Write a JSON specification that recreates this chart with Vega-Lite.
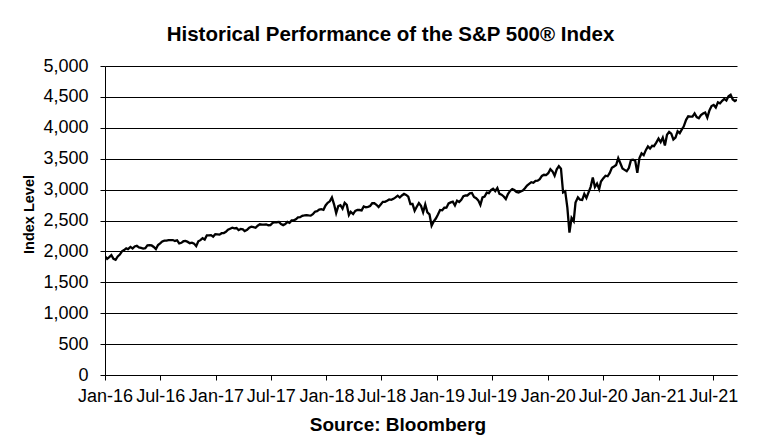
{
"$schema": "https://vega.github.io/schema/vega-lite/v6.json",
"width": 632, "height": 309,
"autosize": {"type": "none"},
"padding": {"left": 105, "top": 66, "right": 41, "bottom": 62},
"background": "white",
"title": {"text": "Historical  Performance of the S&P 500® Index", "font": "Liberation Sans", "fontSize": 20.5, "fontWeight": "bold", "color": "black", "anchor": "middle", "frame": "group", "offset": 12, "dx": -30.5},
"data": {"values": [
{"date":"2016/01/08","close":1922.03},{"date":"2016/01/15","close":1880.33},{"date":"2016/01/22","close":1906.90},{"date":"2016/01/29","close":1940.24},
{"date":"2016/02/05","close":1880.05},{"date":"2016/02/12","close":1864.78},{"date":"2016/02/19","close":1917.78},{"date":"2016/02/26","close":1948.05},
{"date":"2016/03/04","close":1999.99},{"date":"2016/03/11","close":2022.19},{"date":"2016/03/18","close":2049.58},{"date":"2016/03/24","close":2035.94},
{"date":"2016/04/01","close":2072.78},{"date":"2016/04/08","close":2047.60},{"date":"2016/04/15","close":2080.73},{"date":"2016/04/22","close":2091.58},{"date":"2016/04/29","close":2065.30},
{"date":"2016/05/06","close":2057.14},{"date":"2016/05/13","close":2046.61},{"date":"2016/05/20","close":2052.32},{"date":"2016/05/27","close":2099.06},
{"date":"2016/06/03","close":2099.13},{"date":"2016/06/10","close":2096.07},{"date":"2016/06/17","close":2071.22},{"date":"2016/06/24","close":2037.41},
{"date":"2016/07/01","close":2102.95},{"date":"2016/07/08","close":2129.90},{"date":"2016/07/15","close":2161.74},{"date":"2016/07/22","close":2175.03},{"date":"2016/07/29","close":2173.60},
{"date":"2016/08/05","close":2182.87},{"date":"2016/08/12","close":2184.05},{"date":"2016/08/19","close":2183.87},{"date":"2016/08/26","close":2169.04},
{"date":"2016/09/02","close":2179.98},{"date":"2016/09/09","close":2127.81},{"date":"2016/09/16","close":2139.16},{"date":"2016/09/23","close":2164.69},{"date":"2016/09/30","close":2168.27},
{"date":"2016/10/07","close":2153.74},{"date":"2016/10/14","close":2132.98},{"date":"2016/10/21","close":2141.16},{"date":"2016/10/28","close":2126.41},
{"date":"2016/11/04","close":2085.18},{"date":"2016/11/11","close":2164.45},{"date":"2016/11/18","close":2181.90},{"date":"2016/11/25","close":2213.35},
{"date":"2016/12/02","close":2191.95},{"date":"2016/12/09","close":2259.53},{"date":"2016/12/16","close":2258.07},{"date":"2016/12/23","close":2263.79},{"date":"2016/12/30","close":2238.83},
{"date":"2017/01/06","close":2276.98},{"date":"2017/01/13","close":2274.64},{"date":"2017/01/20","close":2271.31},{"date":"2017/01/27","close":2294.69},
{"date":"2017/02/03","close":2297.42},{"date":"2017/02/10","close":2316.10},{"date":"2017/02/17","close":2351.16},{"date":"2017/02/24","close":2367.34},
{"date":"2017/03/03","close":2383.12},{"date":"2017/03/10","close":2372.60},{"date":"2017/03/17","close":2378.25},{"date":"2017/03/24","close":2343.98},{"date":"2017/03/31","close":2362.72},
{"date":"2017/04/07","close":2355.54},{"date":"2017/04/13","close":2328.95},{"date":"2017/04/21","close":2348.69},{"date":"2017/04/28","close":2384.20},
{"date":"2017/05/05","close":2399.29},{"date":"2017/05/12","close":2390.90},{"date":"2017/05/19","close":2381.73},{"date":"2017/05/26","close":2415.82},
{"date":"2017/06/02","close":2439.07},{"date":"2017/06/09","close":2431.77},{"date":"2017/06/16","close":2433.15},{"date":"2017/06/23","close":2438.30},{"date":"2017/06/30","close":2423.41},
{"date":"2017/07/07","close":2425.18},{"date":"2017/07/14","close":2459.27},{"date":"2017/07/21","close":2472.54},{"date":"2017/07/28","close":2472.10},
{"date":"2017/08/04","close":2476.83},{"date":"2017/08/11","close":2441.32},{"date":"2017/08/18","close":2425.55},{"date":"2017/08/25","close":2443.05},
{"date":"2017/09/01","close":2476.55},{"date":"2017/09/08","close":2461.43},{"date":"2017/09/15","close":2500.23},{"date":"2017/09/22","close":2502.22},{"date":"2017/09/29","close":2519.36},
{"date":"2017/10/06","close":2549.33},{"date":"2017/10/13","close":2553.17},{"date":"2017/10/20","close":2575.21},{"date":"2017/10/27","close":2581.07},
{"date":"2017/11/03","close":2587.84},{"date":"2017/11/10","close":2582.30},{"date":"2017/11/17","close":2578.85},{"date":"2017/11/24","close":2602.42},
{"date":"2017/12/01","close":2642.22},{"date":"2017/12/08","close":2651.50},{"date":"2017/12/15","close":2675.81},{"date":"2017/12/22","close":2683.34},{"date":"2017/12/29","close":2673.61},
{"date":"2018/01/05","close":2743.15},{"date":"2018/01/12","close":2786.24},{"date":"2018/01/19","close":2810.30},{"date":"2018/01/26","close":2872.87},
{"date":"2018/02/02","close":2762.13},{"date":"2018/02/09","close":2619.55},{"date":"2018/02/16","close":2732.22},{"date":"2018/02/23","close":2747.30},
{"date":"2018/03/02","close":2691.25},{"date":"2018/03/09","close":2786.57},{"date":"2018/03/16","close":2752.01},{"date":"2018/03/23","close":2588.26},{"date":"2018/03/29","close":2640.87},
{"date":"2018/04/06","close":2604.47},{"date":"2018/04/13","close":2656.30},{"date":"2018/04/20","close":2670.14},{"date":"2018/04/27","close":2669.91},
{"date":"2018/05/04","close":2663.42},{"date":"2018/05/11","close":2727.72},{"date":"2018/05/18","close":2712.97},{"date":"2018/05/25","close":2721.33},
{"date":"2018/06/01","close":2734.62},{"date":"2018/06/08","close":2779.03},{"date":"2018/06/15","close":2779.66},{"date":"2018/06/22","close":2754.88},{"date":"2018/06/29","close":2718.37},
{"date":"2018/07/06","close":2759.82},{"date":"2018/07/13","close":2801.31},{"date":"2018/07/20","close":2801.83},{"date":"2018/07/27","close":2818.82},
{"date":"2018/08/03","close":2840.35},{"date":"2018/08/10","close":2833.28},{"date":"2018/08/17","close":2850.13},{"date":"2018/08/24","close":2874.69},{"date":"2018/08/31","close":2901.52},
{"date":"2018/09/07","close":2871.68},{"date":"2018/09/14","close":2904.98},{"date":"2018/09/21","close":2929.67},{"date":"2018/09/28","close":2913.98},
{"date":"2018/10/05","close":2885.57},{"date":"2018/10/12","close":2767.13},{"date":"2018/10/19","close":2767.78},{"date":"2018/10/26","close":2658.69},
{"date":"2018/11/02","close":2723.06},{"date":"2018/11/09","close":2781.01},{"date":"2018/11/16","close":2736.27},{"date":"2018/11/23","close":2632.56},{"date":"2018/11/30","close":2760.17},
{"date":"2018/12/07","close":2633.08},{"date":"2018/12/14","close":2599.95},{"date":"2018/12/21","close":2416.62},{"date":"2018/12/28","close":2485.74},
{"date":"2019/01/04","close":2531.94},{"date":"2019/01/11","close":2596.26},{"date":"2019/01/18","close":2670.71},{"date":"2019/01/25","close":2664.76},
{"date":"2019/02/01","close":2706.53},{"date":"2019/02/08","close":2707.88},{"date":"2019/02/15","close":2775.60},{"date":"2019/02/22","close":2792.67},
{"date":"2019/03/01","close":2803.69},{"date":"2019/03/08","close":2743.07},{"date":"2019/03/15","close":2822.48},{"date":"2019/03/22","close":2800.71},{"date":"2019/03/29","close":2834.40},
{"date":"2019/04/05","close":2892.74},{"date":"2019/04/12","close":2907.41},{"date":"2019/04/18","close":2905.03},{"date":"2019/04/26","close":2939.88},
{"date":"2019/05/03","close":2945.64},{"date":"2019/05/10","close":2881.40},{"date":"2019/05/17","close":2859.53},{"date":"2019/05/24","close":2826.06},{"date":"2019/05/31","close":2752.06},
{"date":"2019/06/07","close":2873.34},{"date":"2019/06/14","close":2886.98},{"date":"2019/06/21","close":2950.46},{"date":"2019/06/28","close":2941.76},
{"date":"2019/07/05","close":2990.41},{"date":"2019/07/12","close":3013.77},{"date":"2019/07/19","close":2976.61},{"date":"2019/07/26","close":3025.86},
{"date":"2019/08/02","close":2932.05},{"date":"2019/08/09","close":2918.65},{"date":"2019/08/16","close":2888.68},{"date":"2019/08/23","close":2847.11},{"date":"2019/08/30","close":2926.46},
{"date":"2019/09/06","close":2978.71},{"date":"2019/09/13","close":3007.39},{"date":"2019/09/20","close":2992.07},{"date":"2019/09/27","close":2961.79},
{"date":"2019/10/04","close":2952.01},{"date":"2019/10/11","close":2970.27},{"date":"2019/10/18","close":2986.20},{"date":"2019/10/25","close":3022.55},
{"date":"2019/11/01","close":3066.91},{"date":"2019/11/08","close":3093.08},{"date":"2019/11/15","close":3120.46},{"date":"2019/11/22","close":3110.29},{"date":"2019/11/29","close":3140.98},
{"date":"2019/12/06","close":3145.91},{"date":"2019/12/13","close":3168.80},{"date":"2019/12/20","close":3221.22},{"date":"2019/12/27","close":3240.02},
{"date":"2020/01/03","close":3234.85},{"date":"2020/01/10","close":3265.35},{"date":"2020/01/17","close":3329.62},{"date":"2020/01/24","close":3295.47},{"date":"2020/01/31","close":3225.52},
{"date":"2020/02/07","close":3327.71},{"date":"2020/02/14","close":3380.16},{"date":"2020/02/21","close":3337.75},{"date":"2020/02/28","close":2954.22},
{"date":"2020/03/06","close":2972.37},{"date":"2020/03/13","close":2711.02},{"date":"2020/03/20","close":2304.92},{"date":"2020/03/27","close":2541.47},
{"date":"2020/04/03","close":2488.65},{"date":"2020/04/09","close":2789.82},{"date":"2020/04/17","close":2874.56},{"date":"2020/04/24","close":2836.74},
{"date":"2020/05/01","close":2830.71},{"date":"2020/05/08","close":2929.80},{"date":"2020/05/15","close":2863.70},{"date":"2020/05/22","close":2955.45},{"date":"2020/05/29","close":3044.31},
{"date":"2020/06/05","close":3193.93},{"date":"2020/06/12","close":3041.31},{"date":"2020/06/19","close":3097.74},{"date":"2020/06/26","close":3009.05},
{"date":"2020/07/02","close":3130.01},{"date":"2020/07/10","close":3185.04},{"date":"2020/07/17","close":3224.73},{"date":"2020/07/24","close":3215.63},{"date":"2020/07/31","close":3271.12},
{"date":"2020/08/07","close":3351.28},{"date":"2020/08/14","close":3372.85},{"date":"2020/08/21","close":3397.16},{"date":"2020/08/28","close":3508.01},
{"date":"2020/09/04","close":3426.96},{"date":"2020/09/11","close":3340.97},{"date":"2020/09/18","close":3319.47},{"date":"2020/09/25","close":3298.46},
{"date":"2020/10/02","close":3348.42},{"date":"2020/10/09","close":3477.13},{"date":"2020/10/16","close":3483.81},{"date":"2020/10/23","close":3465.39},{"date":"2020/10/30","close":3269.96},
{"date":"2020/11/06","close":3509.44},{"date":"2020/11/13","close":3585.15},{"date":"2020/11/20","close":3557.54},{"date":"2020/11/27","close":3638.35},
{"date":"2020/12/04","close":3699.12},{"date":"2020/12/11","close":3663.46},{"date":"2020/12/18","close":3709.41},{"date":"2020/12/24","close":3703.06},{"date":"2020/12/31","close":3756.07},
{"date":"2021/01/08","close":3824.68},{"date":"2021/01/15","close":3768.25},{"date":"2021/01/22","close":3841.47},{"date":"2021/01/29","close":3714.24},
{"date":"2021/02/05","close":3886.83},{"date":"2021/02/12","close":3934.83},{"date":"2021/02/19","close":3906.71},{"date":"2021/02/26","close":3811.15},
{"date":"2021/03/05","close":3841.94},{"date":"2021/03/12","close":3943.34},{"date":"2021/03/19","close":3913.10},{"date":"2021/03/26","close":3974.54},
{"date":"2021/04/01","close":4019.87},{"date":"2021/04/09","close":4128.80},{"date":"2021/04/16","close":4185.47},{"date":"2021/04/23","close":4180.17},{"date":"2021/04/30","close":4181.17},
{"date":"2021/05/07","close":4232.60},{"date":"2021/05/14","close":4173.85},{"date":"2021/05/21","close":4155.86},{"date":"2021/05/28","close":4204.11},
{"date":"2021/06/04","close":4229.89},{"date":"2021/06/11","close":4247.44},{"date":"2021/06/18","close":4166.45},{"date":"2021/06/25","close":4280.70},
{"date":"2021/07/02","close":4352.34},{"date":"2021/07/09","close":4369.55},{"date":"2021/07/16","close":4327.16},{"date":"2021/07/23","close":4411.79},{"date":"2021/07/30","close":4395.26},
{"date":"2021/08/06","close":4436.52},{"date":"2021/08/13","close":4468.00},{"date":"2021/08/20","close":4441.67},{"date":"2021/08/27","close":4509.37},
{"date":"2021/09/03","close":4535.43},{"date":"2021/09/10","close":4458.58},{"date":"2021/09/17","close":4432.99},{"date":"2021/09/24","close":4455.48}
]},
"mark": {"type": "line", "color": "black", "strokeWidth": 2.3, "clip": true},
"encoding": {
"x": {"field": "date", "type": "temporal",
 "scale": {"domain": [{"year": 2016, "month": 1, "date": 8}, {"year": 2021, "month": 9, "date": 24}]},
 "axis": {"values": [{"year": 2016, "month": 1, "date": 8}, {"year": 2016, "month": 7, "date": 8}, {"year": 2017, "month": 1, "date": 8}, {"year": 2017, "month": 7, "date": 8}, {"year": 2018, "month": 1, "date": 8}, {"year": 2018, "month": 7, "date": 8}, {"year": 2019, "month": 1, "date": 8}, {"year": 2019, "month": 7, "date": 8}, {"year": 2020, "month": 1, "date": 8}, {"year": 2020, "month": 7, "date": 8}, {"year": 2021, "month": 1, "date": 8}, {"year": 2021, "month": 7, "date": 8}],
  "format": "%b-%y", "labelFont": "Liberation Sans", "labelFontSize": 18, "labelColor": "black", "labelPadding": 7, "labelOverlap": false, "labelFlush": false, "labelBound": false,
  "tickSize": 5, "tickColor": "black", "domainColor": "black", "grid": false,
  "title": "Source: Bloomberg", "titleFont": "Liberation Sans", "titleFontSize": 19, "titleFontWeight": "bold", "titleColor": "black", "titleX": 292.5, "titleY": 55, "titleAlign": "center", "titleBaseline": "alphabetic"}},
"y": {"field": "close", "type": "quantitative",
 "scale": {"domain": [0, 5000]},
 "axis": {"values": [0, 500, 1000, 1500, 2000, 2500, 3000, 3500, 4000, 4500, 5000], "format": ",.0f",
  "labelFont": "Liberation Sans", "labelFontSize": 18, "labelColor": "black", "labelPadding": 12,
  "tickSize": 5, "tickColor": "black", "domainColor": "black",
  "grid": true, "gridColor": "black", "gridOpacity": 1, "gridWidth": 1,
  "title": "Index Level", "titleFont": "Liberation Sans", "titleFontSize": 14.5, "titleFontWeight": "bold", "titleColor": "black", "titleX": -72, "titleY": 148, "titleAngle": -90, "titleAlign": "center", "titleBaseline": "alphabetic"}}
},
"config": {"view": {"stroke": null}, "font": "Liberation Sans"}
}
